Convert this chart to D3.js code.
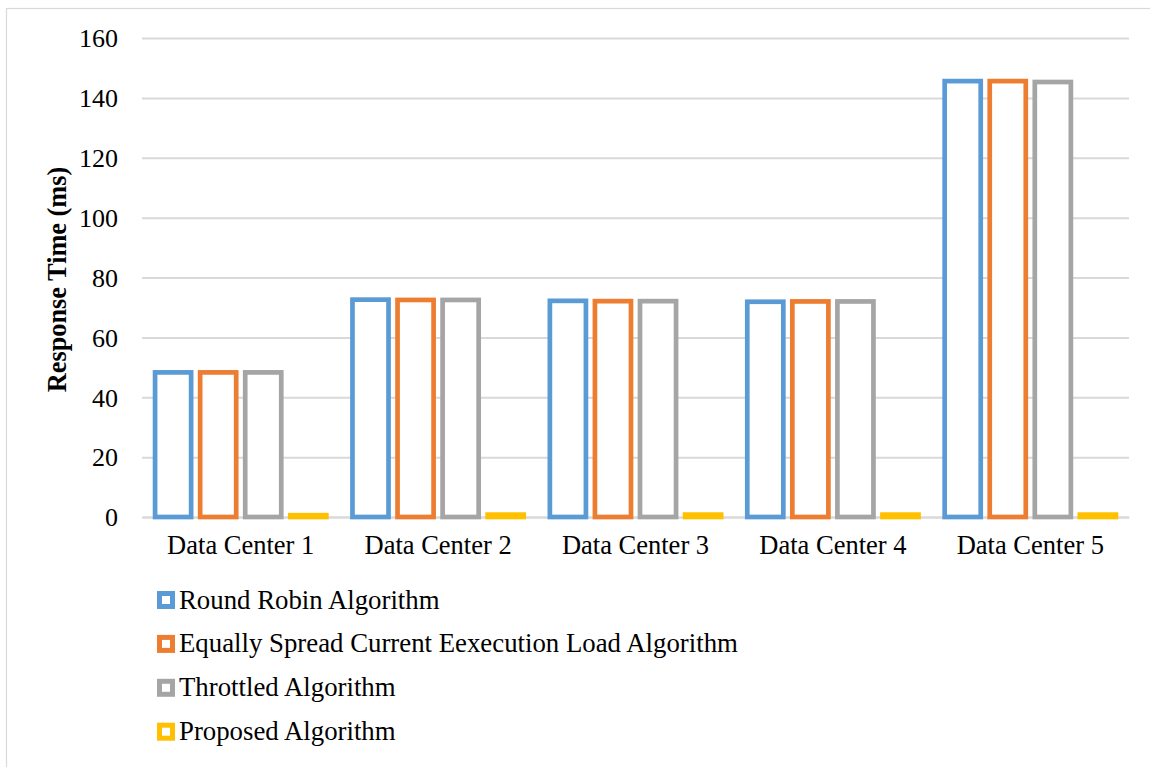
<!DOCTYPE html>
<html>
<head>
<meta charset="utf-8">
<script src="https://cdn.jsdelivr.net/npm/d3@7"></script>
<style>
  body { margin: 0; background: #fff; }
  svg text { font-family: "Times New Roman", "Liberation Serif", serif; fill: #000; }
</style>
</head>
<body>
<svg id="chart"></svg>
<script>
// Chart data
const categories = ['Data Center 1', 'Data Center 2', 'Data Center 3', 'Data Center 4', 'Data Center 5'];
const seriesNames = [
  'Round Robin Algorithm',
  'Equally Spread Current Eexecution Load Algorithm',
  'Throttled Algorithm',
  'Proposed Algorithm'
];
const roundRobin = [48.3, 72.6, 72.2, 71.9, 145.6];
const equallySpread = [48.3, 72.5, 72.1, 72.0, 145.6];
const throttled = [48.3, 72.5, 72.1, 72.0, 145.3];
const proposed = [0.6, 0.8, 0.8, 0.8, 0.8];
const yTicks = [0, 20, 40, 60, 80, 100, 120, 140, 160];
const colors = ['#5B9BD5', '#ED7D31', '#A5A5A5', '#FFC000'];

const seriesValues = [roundRobin, equallySpread, throttled, proposed];

const width = 1150, height = 767;
const margin = {top: 38, right: 21, bottom: 250, left: 142};
const innerW = width - margin.left - margin.right;
const innerH = height - margin.top - margin.bottom;

const svg = d3.select('#chart')
    .attr('width', width)
    .attr('height', height);

// outer chart border
svg.append('rect')
    .attr('x', 6.5).attr('y', 8.5)
    .attr('width', width + 10).attr('height', height + 10)
    .attr('fill', 'none')
    .attr('stroke', '#d9d9d9')
    .attr('stroke-width', 1.2);

const chart = svg.append('g')
    .attr('transform', `translate(${margin.left},${margin.top})`);

const x0 = d3.scaleBand()
    .domain(categories)
    .range([0, innerW])
    .padding(0);

const x1 = d3.scaleBand()
    .domain(seriesNames)
    .range([0, x0.bandwidth()])
    .paddingInner(0.2)
    .paddingOuter(0.29);

const y = d3.scaleLinear()
    .domain([0, 160])
    .range([innerH, 0]);

// gridlines
const yAxis = d3.axisLeft(y)
    .tickValues(yTicks)
    .tickSize(-innerW)
    .tickPadding(24)
    .tickSizeOuter(0);

const yAxisG = chart.append('g')
    .attr('class', 'axis y-axis')
    .call(yAxis);
yAxisG.select('.domain').remove();
yAxisG.selectAll('.tick line')
    .attr('stroke', '#d9d9d9')
    .attr('stroke-width', 2);
yAxisG.selectAll('.tick text')
    .style('font-size', '26px')
    .attr('dy', '0.34em');

// x axis labels
const xAxis = d3.axisBottom(x0).tickSize(0).tickPadding(18);
const xAxisG = chart.append('g')
    .attr('class', 'axis x-axis')
    .attr('transform', `translate(0,${innerH})`)
    .call(xAxis);
xAxisG.select('.domain')
    .attr('stroke', '#d9d9d9')
    .attr('stroke-width', 2);
xAxisG.selectAll('.tick text')
    .style('font-size', '26.5px');

// bars
const strokeW = 4.7;
const groups = chart.selectAll('.series')
    .data(seriesNames)
    .join('g')
      .attr('class', 'series');

groups.selectAll('rect')
    .data((name, i) => categories.map((c, j) => ({cat: c, name: name, idx: i, value: seriesValues[i][j]})))
    .join('rect')
      .attr('x', d => x0(d.cat) + x1(d.name))
      .attr('y', d => y(d.value))
      .attr('width', x1.bandwidth())
      .attr('height', d => y(0) - y(d.value))
      .attr('fill', d => d.idx === 3 ? colors[3] : '#fff')
      .attr('stroke', d => colors[d.idx])
      .attr('stroke-width', strokeW);

// y axis title
chart.append('text')
    .attr('transform', `translate(${66 - margin.left},${innerH / 2 + 2}) rotate(-90)`)
    .style('text-anchor', 'middle')
    .style('font-size', '26.3px')
    .style('font-weight', 'bold')
    .text('Response Time (ms)');

// legend
const legend = svg.append('g')
    .attr('transform', 'translate(157,600)');
const rowH = 43.9;
const items = legend.selectAll('.legend-item')
    .data(seriesNames)
    .join('g')
      .attr('class', 'legend-item')
      .attr('transform', (d, i) => `translate(0,${i * rowH})`);
items.append('rect')
    .attr('x', 2.5).attr('y', -6.5)
    .attr('width', 13).attr('height', 13)
    .attr('fill', '#fff')
    .attr('stroke', (d, i) => colors[i])
    .attr('stroke-width', 5);
items.append('text')
    .attr('x', 22)
    .attr('y', 8.5)
    .style('font-size', '26.8px')
    .text(d => d);
</script>
</body>
</html>
